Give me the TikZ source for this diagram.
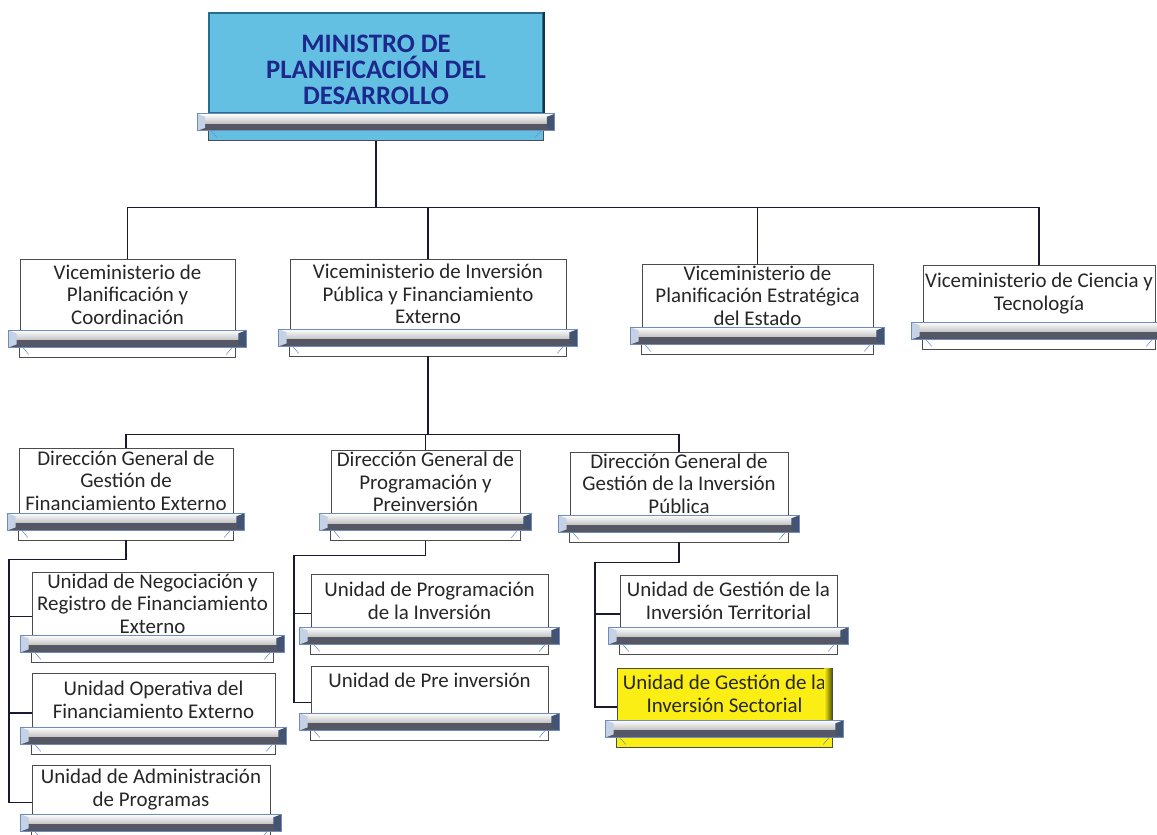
\documentclass[tikz,border=0pt]{standalone}
\usepackage{fontspec}
\setmainfont{Carlito}
\usetikzlibrary{calc}
\definecolor{linec}{RGB}{25,25,50}
\definecolor{minfill}{RGB}{100,192,226}
\definecolor{minedge}{RGB}{40,110,140}
\definecolor{mintext}{RGB}{28,40,140}
\definecolor{ylw}{RGB}{250,238,20}
\definecolor{barlo}{RGB}{85,88,100}
\definecolor{baredge}{RGB}{110,140,190}
\tikzset{
    sz/.style 2 args={minimum width=0.75pt*#1, minimum height=0.75pt*#2},
    unit/.style={draw=black!70, line width=0.5pt, fill=white, align=center, inner sep=1pt,
        font=\fontsize{15.7}{17}\selectfont, text=black!85},
    head/.style={unit, draw=minedge, line width=1.2pt, fill=minfill,
        font=\fontsize{20}{19.5}\selectfont\bfseries, text=mintext},
    sel/.style={unit, fill=ylw},
    conn/.style={draw=linec, line width=0.9pt}
}
\newcommand\basebar[2][white]{%
    \fill[#1] (#2.south west) rectangle ($(#2.south east)+(0,27)$);
    \draw[black!70, line width=0.5pt] (#2.south west) -- ++(0,27) -| (#2.south east);
    \shade[top color=white, bottom color=black!25] ($(#2.south west)+(-11,0)$) rectangle ($(#2.south east)+(11,10)$);
    \fill[barlo] ($(#2.south west)+(-11,10)$) rectangle ($(#2.south east)+(11,17)$);
    \fill[baredge!40] ($(#2.south west)+(-11,0)$) -- ++(8,3) -- ++(0,11) -- ++(-8,3) -- cycle;
    \fill[baredge!60!black] ($(#2.south east)+(11,0)$) -- ++(-8,3) -- ++(0,11) -- ++(8,3) -- cycle;
    \draw[baredge, line width=0.5pt] ($(#2.south west)+(-11,0)$) rectangle ($(#2.south east)+(11,17)$);
    \draw[baredge, line width=0.4pt] ($(#2.south west)+(3,17)$) -- ++(6,7) ($(#2.south east)+(-3,17)$) -- ++(-6,7);
    \coordinate (#2-b) at ($(#2.south)+(0,27)$);
    \coordinate (#2-w) at ($(#2.west)+(0,13)$);
}
\begin{document}
\begin{tikzpicture}[x=0.75pt, y=-0.75pt]
    \useasboundingbox (0,0) rectangle (1157,835);

    \node[head, sz={334}{100}, text height=62pt, text depth=0pt] (min) at (376,63) {MINISTRO DE\\PLANIFICACIÓN DEL\\DESARROLLO};
    \draw[minedge!50!black, line width=1.5pt] (min.north east) -- (min.south east);

    \node[unit, sz={215}{71}] (vpc) at (127.5,294.5) {Viceministerio de\\Planificación y\\Coordinación};
    \node[unit, sz={276}{70}] (vipfe) at (428,294) {Viceministerio de Inversión\\Pública y Financiamiento\\Externo};
    \node[unit, sz={231}{63}] (vpee) at (757.5,295.5) {Viceministerio de\\Planificación Estratégica\\del Estado};
    \node[unit, sz={232}{57}] (vct) at (1039,293.5) {Viceministerio de Ciencia y\\Tecnología};

    \node[unit, sz={214}{65}] (dggfe) at (126,480.5) {Dirección General de\\Gestión de\\Financiamiento Externo};
    \node[unit, sz={189}{62}] (dgpp) at (425.5,482) {Dirección General de\\Programación y\\Preinversión};
    \node[unit, sz={218}{63}] (dggip) at (679,483.5) {Dirección General de\\Gestión de la Inversión\\Pública};

    \node[unit, sz={241}{63}] (unrfe) at (152.5,603.5) {Unidad de Negociación y\\Registro de Financiamiento\\Externo};
    \node[unit, sz={243}{54}] (uofe) at (153.5,700) {Unidad Operativa del\\Financiamiento Externo};
    \node[unit, sz={238}{49}] (uap) at (151,789.5) {Unidad de Administración\\de Programas};

    \node[unit, sz={237}{53}] (upi) at (429.5,600.5) {Unidad de Programación\\de la Inversión};
    \node[unit, sz={237}{47}, text depth=14pt] (upre) at (429.5,689.5) {Unidad de Pre inversión};

    \node[unit, sz={217}{52}] (ugit) at (728.5,601) {Unidad de Gestión de la\\Inversión Territorial};
    \node[sel, sz={215}{52}] (ugis) at (724.5,694) {Unidad de Gestión de la\\Inversión Sectorial};
    \shade[left color=ylw, right color=olive!80!black] ($(ugis.north east)+(-8,1)$) rectangle ($(ugis.south east)+(-1,0)$);

    \basebar[minfill]{min}
    \foreach \n in {vpc, vipfe, vpee, vct, dggfe, dgpp, dggip, unrfe, uofe, uap, upi, upre, ugit}
        {\basebar{\n}}
    \basebar[ylw]{ugis}

    \coordinate (spa) at (9,0);
    \coordinate (spb) at (294,0);
    \coordinate (spc) at (595,0);

    \draw[conn] (min-b) -- ++(0,67) coordinate (ja);
    \draw[conn] (vpc.north) |- (ja) -| (vct.north);
    \draw[conn] (vipfe.north) -- (vipfe.north |- ja);
    \draw[conn] (vpee.north) -- (vpee.north |- ja);

    \draw[conn] (vipfe-b) -- ++(0,78) coordinate (jb);
    \draw[conn] (dggfe.north) |- (jb) -| (dggip.north);
    \draw[conn] (dgpp.north) -- (dgpp.north |- jb);

    \draw[conn] (dggfe-b) -- ++(0,19) -| (uap-w -| spa) -- (uap-w);
    \draw[conn] (unrfe-w -| spa) -- (unrfe-w);
    \draw[conn] (uofe-w -| spa) -- (uofe-w);

    \draw[conn] (dgpp-b) -- ++(0,15) -| (upre-w -| spb) -- (upre-w);
    \draw[conn] (upi-w -| spb) -- (upi-w);

    \draw[conn] (dggip-b) -- ++(0,20) -| (ugis-w -| spc) -- (ugis-w);
    \draw[conn] (ugit-w -| spc) -- (ugit-w);
\end{tikzpicture}
\end{document}
